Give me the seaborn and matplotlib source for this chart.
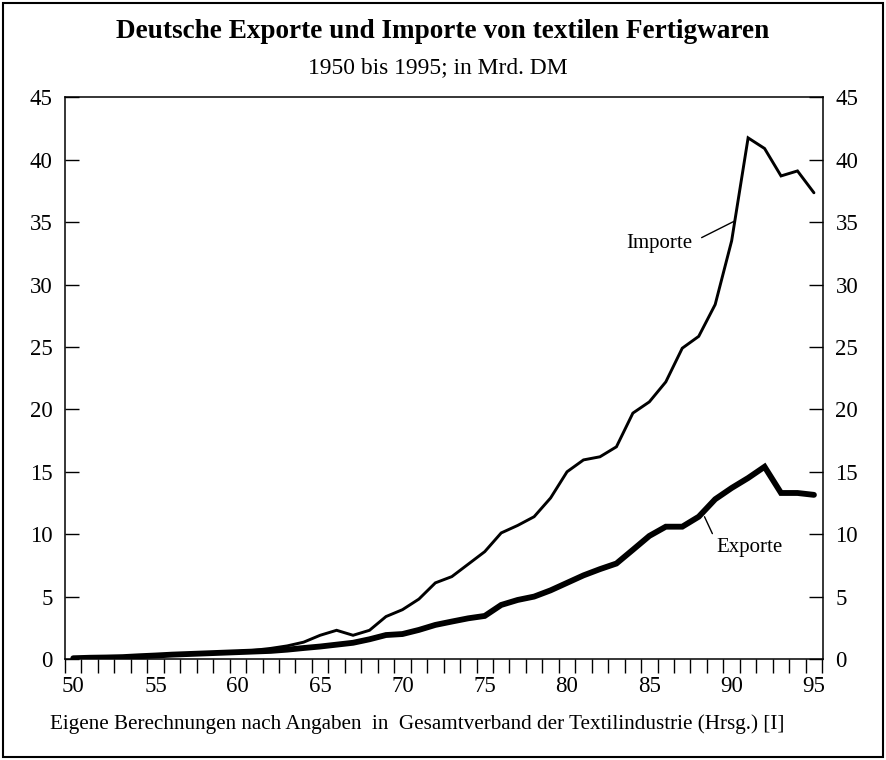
import numpy as np
import pandas as pd
import seaborn as sns
import matplotlib
matplotlib.use("Agg")
import matplotlib.pyplot as plt
from matplotlib.patches import Rectangle

# Jahre 1950 bis 1995
jahre = list(range(1950, 1996))

# Importe textiler Fertigwaren, Mrd. DM
importe = [0.05, 0.08, 0.1, 0.15, 0.2, 0.25, 0.3, 0.35, 0.4, 0.5,
           0.6, 0.7, 0.85, 1.05, 1.35, 1.9, 2.3, 1.9, 2.3, 3.4,
           3.95, 4.8, 6.1, 6.6, 7.6, 8.6, 10.1, 10.7, 11.4, 12.9,
           15.0, 15.95, 16.2, 17.0, 19.7, 20.6, 22.2, 24.9, 25.85, 28.4,
           33.5, 41.75, 40.9, 38.7, 39.1, 37.35]

# Exporte textiler Fertigwaren, Mrd. DM
exporte = [0.06, 0.1, 0.12, 0.15, 0.22, 0.28, 0.35, 0.4, 0.45, 0.5,
           0.55, 0.6, 0.65, 0.75, 0.88, 1.0, 1.15, 1.3, 1.58, 1.92,
           2.0, 2.33, 2.73, 3.0, 3.26, 3.45, 4.33, 4.73, 5.0, 5.5,
           6.1, 6.7, 7.2, 7.65, 8.75, 9.86, 10.6, 10.6, 11.4, 12.8,
           13.7, 14.5, 15.4, 13.3, 13.3, 13.15]

x_ticks = [50, 55, 60, 65, 70, 75, 80, 85, 90, 95]
y_ticks = [0, 5, 10, 15, 20, 25, 30, 35, 40, 45]

df = pd.DataFrame({"Jahr": [j - 1900 for j in jahre],
                   "Importe": importe,
                   "Exporte": exporte})

sns.set_style("ticks")
plt.rcParams["font.family"] = ["Liberation Serif", "DejaVu Serif"]
plt.rcParams["axes.linewidth"] = 1.1
for key in ["text.color", "axes.labelcolor", "xtick.color", "ytick.color",
            "axes.edgecolor"]:
    plt.rcParams[key] = "black"

fig = plt.figure(figsize=(8.86, 7.6), dpi=100)
ax = fig.add_axes([65 / 886, 1 - 659 / 760, 758 / 886, 561.7 / 760])

sns.lineplot(data=df, x="Jahr", y="Importe", ax=ax, color="black",
             linewidth=2.1, solid_joinstyle="miter")
sns.lineplot(data=df, x="Jahr", y="Exporte", ax=ax, color="black",
             linewidth=4.2, solid_joinstyle="miter")

ax.set_xlim(49.55, 95.55)
ax.set_ylim(0, 45)
ax.set_xlabel("")
ax.set_ylabel("")

ax.set_xticks(x_ticks)
ax.set_xticklabels([str(t) for t in x_ticks])
ax.set_xticks(np.arange(49.5, 96, 1.0), minor=True)
ax.tick_params(axis="x", which="major", length=0, pad=12.5, labelsize=16.5)
ax.tick_params(axis="x", which="minor", direction="out", length=10,
               width=1.0)

ax.set_yticks(y_ticks)
ax.tick_params(axis="y", which="major", direction="in", length=10,
               width=1.0, left=True, right=True, labelleft=True,
               labelright=True, pad=9, labelsize=16.5)
ax.tick_params(axis="y", which="minor", left=False, right=False)

for s in ax.spines.values():
    s.set_visible(True)
    s.set_color("black")

# Beschriftungen der Linien
ax.annotate("Importe", xy=(90.2, 35.1), xytext=(87.6, 33.3),
            ha="right", va="center", fontsize=15,
            arrowprops=dict(arrowstyle="-", lw=1.0, color="black",
                            relpos=(1.0, 0.55), shrinkA=5, shrinkB=0))
ax.annotate("Exporte", xy=(88.35, 11.4), xytext=(89.1, 8.9),
            ha="left", va="center", fontsize=15,
            arrowprops=dict(arrowstyle="-", lw=1.0, color="black",
                            relpos=(0.0, 0.75), shrinkA=2, shrinkB=0))

fig.text(0.5, 1 - 32 / 760,
         "Deutsche Exporte und Importe von textilen Fertigwaren",
         ha="center", va="center", fontsize=19.6, fontweight="bold")
fig.text(438 / 886, 1 - 68 / 760, "1950 bis 1995; in Mrd. DM",
         ha="center", va="center", fontsize=16.9)
fig.text(50 / 886, 1 - 724 / 760,
         "Eigene Berechnungen nach Angaben  in  Gesamtverband der "
         "Textilindustrie (Hrsg.) [I]",
         ha="left", va="center", fontsize=15.2)

fig.patches.append(Rectangle((0.003, 0.004), 0.994, 0.992,
                             transform=fig.transFigure, fill=False,
                             edgecolor="black", linewidth=1.5))

fig.savefig("out.png", dpi=100)
